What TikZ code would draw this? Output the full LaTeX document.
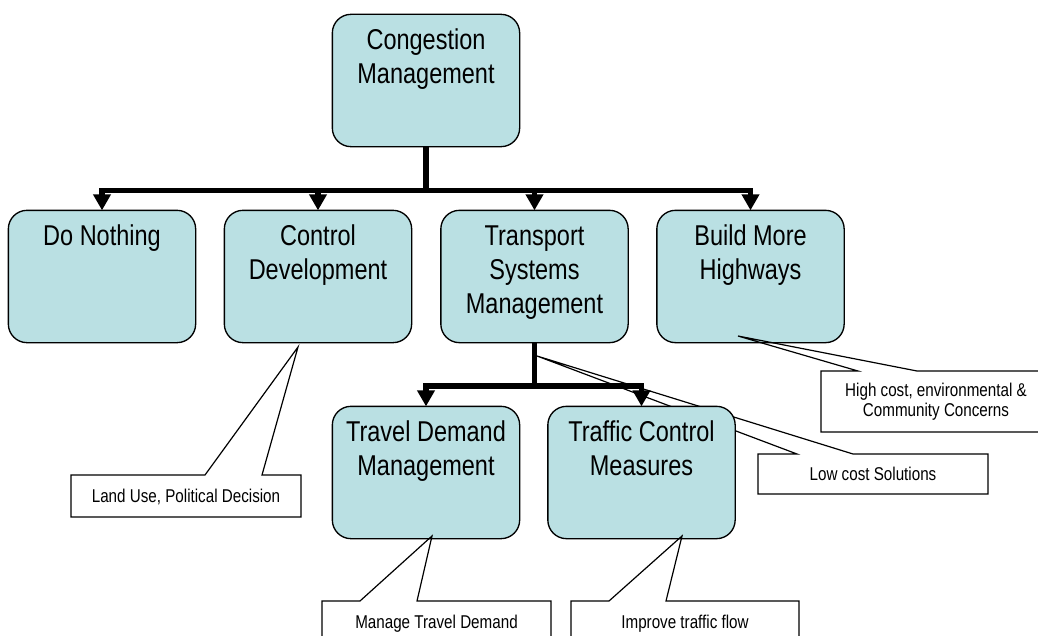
\documentclass[tikz,border=0pt]{standalone}
\usepackage{fontspec}
\setmainfont{Liberation Sans}[FakeStretch=0.82]
\usetikzlibrary{arrows.meta}
\definecolor{boxfill}{RGB}{186,224,227}
\newcommand\boxlines[1]{\begin{tabular}[t]{@{}c@{}}#1\end{tabular}}

\begin{document}
\begin{tikzpicture}[x=0.75pt,y=-0.75pt,
  stage/.style={draw=black, line width=1pt, fill=boxfill, rounded corners=14pt,
    minimum width=139.5pt, minimum height=98.25pt, inner sep=0pt},
  stagetext/.style={anchor=base, inner sep=0pt, font=\fontsize{21.5pt}{25.5pt}\selectfont},
  bus/.style={line width=4.1pt, line join=miter, -{Triangle[width=12.75pt,length=12pt]}},
  note/.style={inner sep=0pt, outer sep=0pt, font=\fontsize{13.9pt}{14.8pt}\selectfont,
    text height=10pt, text depth=0pt},
  notetwo/.style={inner sep=0pt, outer sep=0pt, font=\fontsize{13.9pt}{14.8pt}\selectfont,
    align=center},
  noteline/.style={draw=black, line width=0.9pt, line join=miter}
]
\useasboundingbox (0,0) rectangle (1038,635);
\clip (0,0) rectangle (1038,635);
\fill[white] (0,0) rectangle (1038,635);

% callout that passes behind the lower boxes
\coordinate (lcTip) at (537,356);
\coordinate (lcB1) at (797,454);
\coordinate (lcB2) at (853,454);
\node[note, minimum width=172.5pt, minimum height=30pt] (lc) at (873,474) {Low cost Solutions};
\draw[noteline] (lc.north west) -- (lcB1) -- (lcTip) -- (lcB2) -- (lc.north east)
  -- (lc.south east) -- (lc.south west) -- cycle;

% stage boxes
\node[stage] (cm) at (426,80.5) {};
\node[stage] (dn) at (102,276.5) {};
\node[stage] (cd) at (318,276.5) {};
\node[stage] (tsm) at (534.5,276.5) {};
\node[stage] (bmh) at (750.5,276.5) {};
\node[stage] (tdm) at (426,472.5) {};
\node[stage] (tcm) at (641.5,472.5) {};

% hierarchy connectors
\coordinate (busA) at (426,190.5);
\coordinate (busB) at (534.5,386);
\foreach \child in {dn,cd,tsm,bmh}
  \draw[bus] (cm.south) -- (cm.south |- busA) -| (\child.north);
\foreach \child in {tdm,tcm}
  \draw[bus] (tsm.south) -- (tsm.south |- busB) -| (\child.north);

% redraw boxes over connector overlaps
\foreach \b in {cm,dn,cd,tsm,bmh,tdm,tcm}
  \path[stage] (\b.north west) rectangle (\b.south east);

% box labels
\node[stagetext] (cmt) at ([yshift=-26.6pt]cm.north) {\boxlines{Congestion\\Management}};
\node[stagetext] (dnt) at ([yshift=-26.6pt]dn.north) {\boxlines{Do Nothing}};
\node[stagetext] (cdt) at ([yshift=-26.6pt]cd.north) {\boxlines{Control\\Development}};
\node[stagetext] (tsmt) at ([yshift=-26.6pt]tsm.north) {\boxlines{Transport\\Systems\\Management}};
\node[stagetext] (bmht) at ([yshift=-26.6pt]bmh.north) {\boxlines{Build More\\Highways}};
\node[stagetext] (tdmt) at ([yshift=-26.3pt]tdm.north) {\boxlines{Travel Demand\\Management}};
\node[stagetext] (tcmt) at ([yshift=-26.3pt]tcm.north) {\boxlines{Traffic Control\\Measures}};

% remaining callouts
\coordinate (luTip) at (298,347);
\coordinate (luB1) at (205,475);
\coordinate (luB2) at (262,475);
\node[note, minimum width=172.5pt, minimum height=31.5pt] (lu) at (186,496) {Land Use, Political Decision};
\draw[noteline] (lu.north west) -- (luB1) -- (luTip) -- (luB2) -- (lu.north east)
  -- (lu.south east) -- (lu.south west) -- cycle;

\coordinate (mtTip) at (432,536);
\coordinate (mtB1) at (360,601);
\coordinate (mtB2) at (417,601);
\node[note, minimum width=171.75pt, minimum height=30.75pt] (mt) at (436.5,621.5) {Manage Travel Demand};
\draw[noteline] (mt.north west) -- (mtB1) -- (mtTip) -- (mtB2) -- (mt.north east)
  -- (mt.south east) -- (mt.south west) -- cycle;

\coordinate (itTip) at (682,536);
\coordinate (itB1) at (609,601);
\coordinate (itB2) at (666,601);
\node[note, minimum width=171pt, minimum height=30.75pt] (it) at (685,621.5) {Improve traffic flow};
\draw[noteline] (it.north west) -- (itB1) -- (itTip) -- (itB2) -- (it.north east)
  -- (it.south east) -- (it.south west) -- cycle;

\coordinate (hcTip) at (738,336);
\coordinate (hcB1) at (858,371);
\coordinate (hcB2) at (917,371);
\node[notetwo, minimum width=172.5pt, minimum height=45.75pt] (hc) at (936,401.5) {High cost, environmental \&\\Community Concerns};
\draw[noteline] (hc.north west) -- (hcB1) -- (hcTip) -- (hcB2) -- (hc.north east)
  -- (hc.south east) -- (hc.south west) -- cycle;
\end{tikzpicture}
\end{document}
